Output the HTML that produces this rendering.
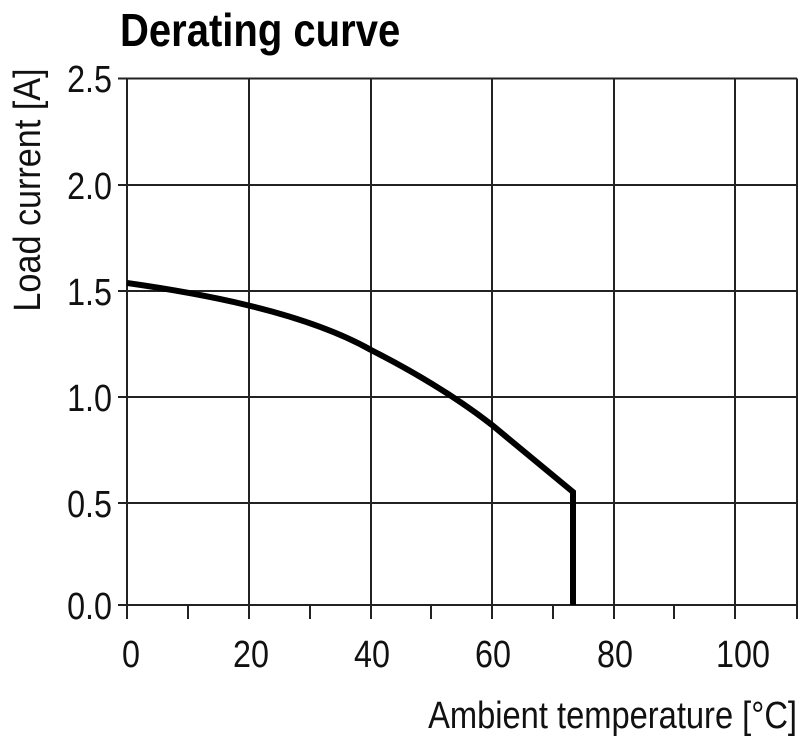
<!DOCTYPE html>
<html><head><style>body{margin:0;background:#fff}</style></head><body>
<svg width="800" height="740" xmlns="http://www.w3.org/2000/svg" font-family="Liberation Sans, sans-serif">
<text x="120" y="46" font-size="46" font-weight="bold" transform="translate(120 0) scale(0.87 1) translate(-120 0)" fill="#000">Derating curve</text>
<g stroke="#222" stroke-width="2" fill="none">
<line x1="127" y1="78.5" x2="127" y2="619"/>
<line x1="249" y1="78.5" x2="249" y2="619"/>
<line x1="371" y1="78.5" x2="371" y2="619"/>
<line x1="492" y1="78.5" x2="492" y2="619"/>
<line x1="614" y1="78.5" x2="614" y2="619"/>
<line x1="735" y1="78.5" x2="735" y2="619"/>
<line x1="797" y1="78.5" x2="797" y2="619"/>
<line x1="188" y1="605" x2="188" y2="619"/>
<line x1="310" y1="605" x2="310" y2="619"/>
<line x1="431" y1="605" x2="431" y2="619"/>
<line x1="553" y1="605" x2="553" y2="619"/>
<line x1="674" y1="605" x2="674" y2="619"/>
<line x1="118" y1="78.5" x2="797" y2="78.5"/>
<line x1="118" y1="185" x2="797" y2="185"/>
<line x1="118" y1="291" x2="797" y2="291"/>
<line x1="118" y1="397" x2="797" y2="397"/>
<line x1="118" y1="503" x2="797" y2="503"/>
<line x1="118" y1="605" x2="797" y2="605"/>
</g>
<path d="M127 283 C190 292 300 310 371 350 C420 375 460 400 492 425 L573 492 L573 605" stroke="#000" stroke-width="6" fill="none" stroke-linejoin="miter"/>
<g font-size="38" fill="#111" text-anchor="end">
<text x="112" y="92" transform="translate(112 0) scale(0.85 1) translate(-112 0)">2.5</text>
<text x="112" y="199" transform="translate(112 0) scale(0.85 1) translate(-112 0)">2.0</text>
<text x="112" y="305" transform="translate(112 0) scale(0.85 1) translate(-112 0)">1.5</text>
<text x="112" y="411" transform="translate(112 0) scale(0.85 1) translate(-112 0)">1.0</text>
<text x="112" y="517" transform="translate(112 0) scale(0.85 1) translate(-112 0)">0.5</text>
<text x="112" y="619" transform="translate(112 0) scale(0.85 1) translate(-112 0)">0.0</text>
</g>
<g font-size="38" fill="#111" text-anchor="middle">
<text x="131" y="667" transform="translate(131 0) scale(0.85 1) translate(-131 0)">0</text>
<text x="251" y="667" transform="translate(251 0) scale(0.85 1) translate(-251 0)">20</text>
<text x="372" y="667" transform="translate(372 0) scale(0.85 1) translate(-372 0)">40</text>
<text x="493" y="667" transform="translate(493 0) scale(0.85 1) translate(-493 0)">60</text>
<text x="615" y="667" transform="translate(615 0) scale(0.85 1) translate(-615 0)">80</text>
<text x="743" y="667" transform="translate(743 0) scale(0.85 1) translate(-743 0)">100</text>
</g>
<text x="797" y="728" font-size="38" fill="#111" text-anchor="end" transform="translate(797 0) scale(0.86 1) translate(-797 0)">Ambient temperature [°C]</text>
<text font-size="38" fill="#111" text-anchor="middle" transform="translate(40 190) rotate(-90) scale(0.9 1)">Load current [A]</text>
</svg>
</body></html>
